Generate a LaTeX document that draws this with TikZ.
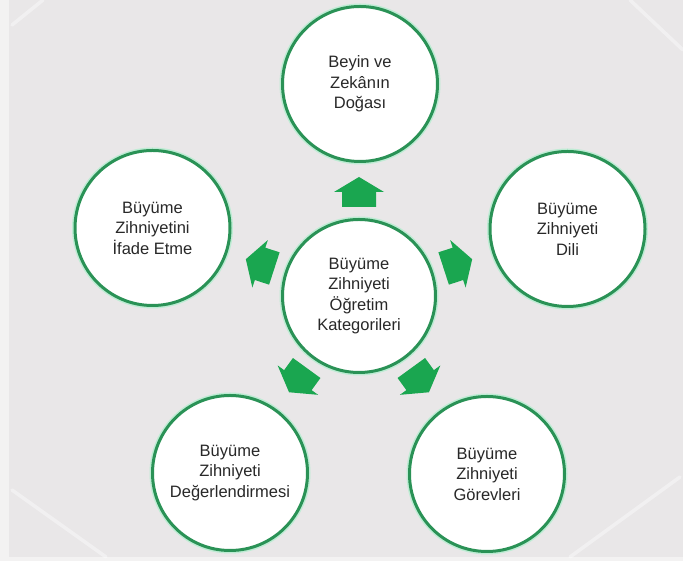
\documentclass[tikz,border=0pt]{standalone}
\usepackage{fontspec}
\setmainfont{Liberation Sans}
\definecolor{bggray}{RGB}{233,231,232}
\definecolor{edgegray}{RGB}{243,242,242}
\definecolor{ringgreen}{RGB}{42,146,86}
\definecolor{halogreen}{RGB}{190,236,212}
\definecolor{arrowgreen}{RGB}{26,166,80}
\definecolor{textgray}{RGB}{40,40,40}
\tikzset{
  bubble/.style={circle, draw=ringgreen, line width=3pt, fill=white,
    preaction={draw=halogreen, line width=6pt},
    minimum size=155pt, inner sep=0pt, align=center, text=textgray,
    font=\fontsize{16.5}{20.5}\selectfont},
  blockarrow/.style={fill=arrowgreen, draw=none},
  sheen/.style={draw=white, line width=3.5pt, opacity=0.4, line cap=round}
}
\begin{document}
\begin{tikzpicture}[x=1pt,y=1pt]
\useasboundingbox (0,0) rectangle (683,561);
% background
\fill[edgegray] (0,0) rectangle (683,561);
\fill[bggray] (9,4) rectangle (683,561);
\draw[sheen] (12,536) -- (43,561);
\draw[sheen] (630,561) -- (683,511);
\draw[sheen] (12,71) -- (106,4);
\draw[sheen] (680,84) -- (570,4);
% nodes
\node[bubble, minimum size=153pt] (c) at (359,265) {Büyüme\\Zihniyeti\\Öğretim\\Kategorileri};
\node[bubble] (n1) at (360,477) {Beyin ve\\Zekânın\\Doğası};
\node[bubble] (n2) at (152.5,333) {Büyüme\\Zihniyetini\\İfade Etme};
\node[bubble] (n3) at (567.5,332) {Büyüme\\Zihniyeti\\Dili};
\node[bubble] (n4) at (230,88) {Büyüme\\Zihniyeti\\Değerlendirmesi};
\node[bubble] (n5) at (487,87) {Büyüme\\Zihniyeti\\Görevleri};
% block arrows from centre towards each outer circle
\foreach \ang in {0,72,-72,144,-144}{
  \begin{scope}[shift={(c.center)}, rotate=\ang]
    \fill[blockarrow] (-17,89) -- (17,89) -- (17,104) -- (25,104) -- (0,119) -- (-25,104) -- (-17,104) -- cycle;
  \end{scope}
}
\end{tikzpicture}
\end{document}
